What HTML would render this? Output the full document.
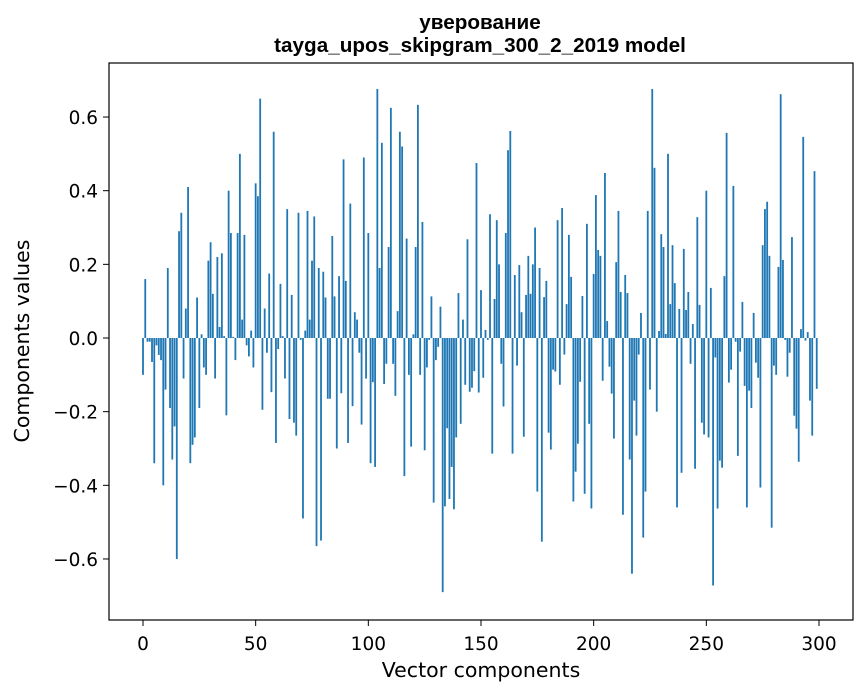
<!DOCTYPE html>
<html><head><meta charset="utf-8"><style>
body{margin:0;background:#fff;font-family:"DejaVu Sans","Liberation Sans",sans-serif;}
svg text{font-family:"DejaVu Sans","Liberation Sans",sans-serif;}
</style></head><body>
<svg id="chart" width="867" height="696" viewBox="0 0 867 696" xmlns="http://www.w3.org/2000/svg">
<rect width="867" height="696" fill="#fff"/>
<text x="480" y="29" text-anchor="middle" font-size="20.7" font-weight="bold" style="font-family:'Liberation Sans',sans-serif">уверование</text>
<text x="480" y="52" text-anchor="middle" font-size="20.7" font-weight="bold" style="font-family:'Liberation Sans',sans-serif">tayga_upos_skipgram_300_2_2019 model</text>
<g id="bars"></g>
<rect x="109" y="63" width="744" height="557" fill="none" stroke="#000" stroke-width="1.2"/>
<g id="xt"></g>
<g id="yt"></g>
<text x="481" y="677" text-anchor="middle" font-size="20.5">Vector components</text>
<text transform="translate(29,341) rotate(-90)" text-anchor="middle" font-size="20.5">Components values</text>
</svg>
<script>
const values = [-0.10,0.16,-0.01,-0.01,-0.065,-0.34,-0.02,-0.046,-0.06,-0.40,
-0.14,0.19,-0.19,-0.33,-0.24,-0.60,0.29,0.34,-0.11,0.08,
0.41,-0.34,-0.29,-0.27,0.11,-0.19,0.01,-0.08,-0.10,0.21,
0.26,0.12,-0.11,0.22,0.03,0.23,0.005,-0.21,0.40,0.285,
0.003,-0.06,0.285,0.50,0.05,0.28,-0.02,-0.05,0.02,-0.08,
0.42,0.385,0.65,-0.195,0.08,-0.04,0.175,-0.147,0.56,-0.285,
-0.03,0.147,0.005,-0.11,0.35,-0.22,0.117,-0.23,-0.265,0.34,
-0.005,-0.49,0.02,0.345,0.05,0.21,0.33,-0.565,0.19,-0.55,
0.18,0.11,-0.165,-0.165,0.277,0.113,-0.30,0.168,-0.15,0.485,
0.155,-0.285,0.365,-0.185,0.07,0.05,-0.04,-0.235,0.49,-0.11,
0.285,-0.34,-0.12,-0.35,0.676,0.19,0.53,-0.125,-0.07,0.247,
0.625,-0.07,-0.157,0.073,0.56,0.52,-0.375,0.27,-0.10,-0.295,
0.01,0.247,0.633,-0.10,0.315,-0.305,-0.08,-0.005,0.113,-0.447,
-0.06,-0.024,0.085,-0.69,-0.457,-0.245,-0.437,-0.35,-0.465,-0.27,
0.122,-0.233,0.05,-0.127,0.268,-0.146,-0.135,-0.09,0.475,-0.148,
0.13,-0.108,0.022,-0.005,0.336,-0.314,0.106,0.32,0.2,-0.07,
-0.186,0.285,0.51,0.562,-0.314,0.171,-0.075,0.198,0.07,-0.268,
0.117,0.223,0.12,0.2,0.3,-0.417,0.19,-0.553,0.111,0.155,
-0.257,-0.303,-0.086,-0.091,0.32,-0.127,0.353,-0.045,0.092,0.28,
0.166,-0.444,-0.363,-0.287,-0.119,0.114,-0.423,0.31,-0.233,-0.463,
0.174,0.388,0.239,0.223,-0.116,0.448,0.046,-0.078,-0.151,-0.273,
0.206,0.345,0.125,-0.48,0.171,0.122,-0.33,-0.64,-0.17,-0.265,
-0.045,0.068,-0.542,-0.417,0.345,-0.14,0.676,0.462,-0.2,0.019,
0.282,0.247,0.011,0.5,0.092,0.252,0.149,-0.46,0.079,-0.366,
0.242,0.076,0.125,-0.07,0.038,-0.355,0.328,0.09,-0.23,-0.262,
0.4,-0.27,0.136,-0.672,-0.053,-0.463,-0.333,-0.352,0.168,0.557,
-0.121,-0.086,0.413,-0.01,-0.32,-0.037,0.098,-0.13,-0.46,-0.143,
-0.19,0.068,-0.067,-0.108,-0.406,0.252,0.35,0.37,0.223,-0.515,
-0.075,-0.1,0.193,0.662,0.212,-0.005,-0.105,-0.04,0.274,-0.211,
-0.246,-0.336,0.024,0.546,-0.007,0.016,-0.17,-0.265,0.453,-0.138];
const xTicks = [0,50,100,150,200,250,300];
const yTicks = [-0.6,-0.4,-0.2,0.0,0.2,0.4,0.6];
const yTickLabels = ["\u22120.6","\u22120.4","\u22120.2","0.0","0.2","0.4","0.6"];

const NS="http://www.w3.org/2000/svg";
const xS = v => 143 + 2.2533*v;
const yS = v => 338 - 368.3*v;
const bars=document.getElementById('bars');
values.forEach((v,i)=>{
  const r=document.createElementNS(NS,'rect');
  const x0=xS(i-0.4), x1=xS(i+0.4);
  const y0=Math.min(yS(v),yS(0)), h=Math.abs(yS(v)-yS(0));
  r.setAttribute('x',x0);r.setAttribute('width',x1-x0);
  r.setAttribute('y',y0);r.setAttribute('height',Math.max(h,0.01));
  r.setAttribute('fill','#1f77b4');
  
  
  bars.appendChild(r);
});
const xt=document.getElementById('xt');
xTicks.forEach(t=>{
  const l=document.createElementNS(NS,'line');
  l.setAttribute('x1',xS(t));l.setAttribute('x2',xS(t));l.setAttribute('y1',620);l.setAttribute('y2',626);
  l.setAttribute('stroke','#000');
  
  
  xt.appendChild(l);
  const tx=document.createElementNS(NS,'text');
  tx.setAttribute('x',xS(t));tx.setAttribute('y',650);tx.setAttribute('text-anchor','middle');tx.setAttribute('font-size','18.5');
  tx.textContent=t;
  
  
  xt.appendChild(tx);
});
const yt=document.getElementById('yt');
yTicks.forEach((t,i)=>{
  const l=document.createElementNS(NS,'line');
  l.setAttribute('x1',103);l.setAttribute('x2',109);l.setAttribute('y1',yS(t));l.setAttribute('y2',yS(t));
  l.setAttribute('stroke','#000');
  
  
  yt.appendChild(l);
  const tx=document.createElementNS(NS,'text');
  tx.setAttribute('x',98);tx.setAttribute('y',yS(t)+7);tx.setAttribute('text-anchor','end');tx.setAttribute('font-size','18.5');
  tx.textContent=yTickLabels[i];
  
  
  yt.appendChild(tx);
});
</script>
</body></html>
